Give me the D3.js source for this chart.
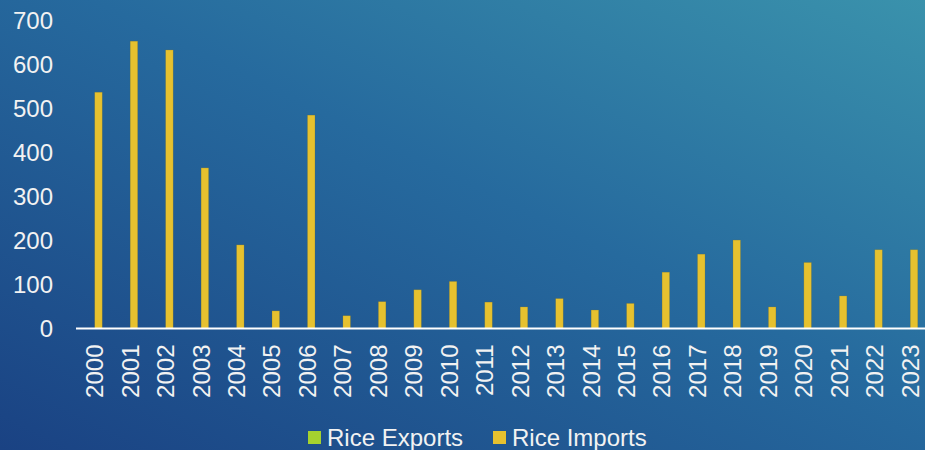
<!DOCTYPE html>
<html>
<head>
<meta charset="utf-8">
<script src="https://cdn.jsdelivr.net/npm/d3@7"></script>
<style>
    html, body { margin: 0; padding: 0; overflow: hidden; }
    svg { display: block; }
</style>
</head>
<body>
<svg id="chart" width="925" height="450"></svg>
<script>
const years = ['2000', '2001', '2002', '2003', '2004', '2005', '2006', '2007', '2008', '2009', '2010', '2011',
               '2012', '2013', '2014', '2015', '2016', '2017', '2018', '2019', '2020', '2021', '2022', '2023'];
const seriesNames = ['Rice Exports', 'Rice Imports'];
const riceExports = [0, 0, 0, 0, 0, 0, 0, 0, 0, 0, 0, 0, 0, 0, 0, 0, 0, 0, 0, 0, 0, 0, 0, 0];
const riceImports = [537, 653, 633, 365, 190, 40, 485, 29, 61, 88, 107, 60,
                     49, 68, 42, 57, 128, 169, 201, 49, 150, 74, 179, 179];
const yTicks = [0, 100, 200, 300, 400, 500, 600, 700];

const width = 925;
const height = 450;
const font = "'Liberation Sans', Arial, sans-serif";
const textColor = '#f2f2f2';
const colors = { 'Rice Exports': '#a5d22f', 'Rice Imports': '#e6c12f' };

const svg = d3.select('#chart');

function setBackground(svg) {
    const grad = svg.append('defs')
        .append('linearGradient')
        .attr('id', 'bg')
        .attr('x1', 0).attr('y1', 1)
        .attr('x2', 1).attr('y2', 0);
    grad.append('stop').attr('offset', '0%').attr('stop-color', '#1a4283');
    grad.append('stop').attr('offset', '55%').attr('stop-color', '#266a9e');
    grad.append('stop').attr('offset', '100%').attr('stop-color', '#3a92ac');

    svg.append('rect')
        .attr('x', 0)
        .attr('y', 0)
        .attr('width', width)
        .attr('height', height)
        .attr('fill', 'url(#bg)');
}

setBackground(svg);

// scales
const xScale = d3.scaleBand()
    .domain(years)
    .range([77, 928])
    .paddingInner(0.577)
    .paddingOuter(0.2885);

const xInner = d3.scaleBand()
    .domain(seriesNames)
    .range([0, xScale.bandwidth()]);

const yScale = d3.scaleLinear()
    .domain([0, 700])
    .range([328.5, 20.5]);

// y axis labels
const yAxis = svg.append('g')
    .attr('id', 'y-axis')
    .attr('transform', 'translate(53,0)')
    .call(d3.axisLeft(yScale).tickValues(yTicks).tickSize(0).tickPadding(0));
yAxis.select('.domain').remove();
yAxis.selectAll('text')
    .style('font-family', font)
    .style('font-size', '24px')
    .attr('fill', textColor);

// bars
const data = years.map((y, i) => ({ year: y, values: [
    { key: 'Rice Exports', value: riceExports[i] },
    { key: 'Rice Imports', value: riceImports[i] }
]}));

svg.append('g')
    .selectAll('g')
    .data(data)
    .join('g')
    .attr('transform', d => `translate(${xScale(d.year)},0)`)
    .selectAll('rect')
    .data(d => d.values)
    .join('rect')
    .attr('x', d => xInner(d.key))
    .attr('y', d => yScale(d.value))
    .attr('width', xInner.bandwidth())
    .attr('height', d => yScale(0) - yScale(d.value))
    .attr('fill', d => colors[d.key])
    .attr('stroke', 'rgba(120,110,40,0.35)')
    .attr('stroke-width', 0.6);

// x axis
const xAxis = svg.append('g')
    .attr('id', 'x-axis')
    .attr('transform', `translate(0,${yScale(0)})`)
    .call(d3.axisBottom(xScale).tickSize(0).tickPadding(0));
xAxis.select('.domain').remove();
xAxis.selectAll('text')
    .attr('transform', 'rotate(-90)')
    .attr('x', -16)
    .attr('y', 0)
    .attr('dy', '0.35em')
    .attr('text-anchor', 'end')
    .style('font-family', font)
    .style('font-size', '24px')
    .attr('fill', textColor);

svg.append('line')
    .attr('x1', xScale.range()[0] - 1)
    .attr('x2', width)
    .attr('y1', yScale(0))
    .attr('y2', yScale(0))
    .attr('stroke', '#ffffff')
    .attr('stroke-width', 2);

// legend
const legendX = [308, 493];
const legend = svg.append('g').attr('id', 'legend');
seriesNames.forEach((name, i) => {
    legend.append('rect')
        .attr('x', legendX[i])
        .attr('y', 431)
        .attr('width', 13)
        .attr('height', 13)
        .attr('fill', colors[name]);
    legend.append('text')
        .attr('x', legendX[i] + 19)
        .attr('y', 437.5)
        .attr('dominant-baseline', 'central')
        .style('font-family', font)
        .style('font-size', '24px')
        .attr('fill', textColor)
        .text(name);
});
</script>
</body>
</html>
